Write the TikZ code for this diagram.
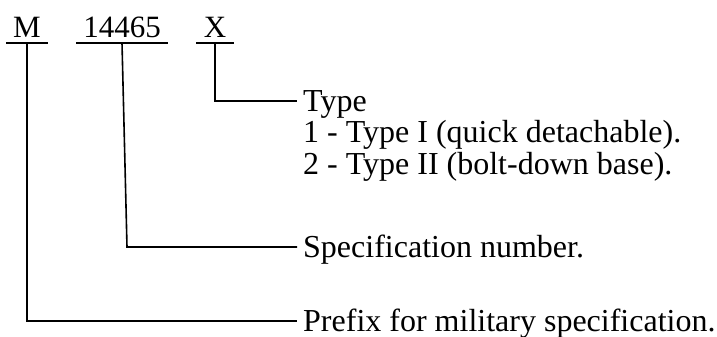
\documentclass[tikz,border=0pt]{standalone}
\usepackage{fontspec}
\setmainfont{Liberation Serif}
\begin{document}
\begin{tikzpicture}[x=1pt,y=1pt,
  lbl/.style={inner xsep=6pt, inner ysep=0pt, text height=20pt, text depth=0pt, font=\fontsize{32}{38}\selectfont},
  code/.style={inner xsep=0pt, inner ysep=5pt, text height=20pt, text depth=0pt, font=\fontsize{31}{37}\selectfont},
  wire/.style={line width=1.6pt, line cap=rect}]
\useasboundingbox (0,0) rectangle (717,-337);
% code letters
\node[code, minimum width=40pt, anchor=south] (m) at (27,-43) {M};
\node[code, minimum width=90pt, anchor=south] (n) at (122,-43) {14465};
\node[code, minimum width=36pt, anchor=south] (x) at (215,-43) {X};
\draw[wire] (m.south west) -- (m.south east);
\draw[wire] (n.south west) -- (n.south east);
\draw[wire] (x.south west) -- (x.south east);
% descriptions
\node[lbl, anchor=west] (t0) at (297,-101) {Type};
\node[lbl, anchor=base west] (t1) at (297,-142) {1 - Type I (quick detachable).};
\node[lbl, anchor=base west] (t2) at (297,-174) {2 - Type II (bolt-down base).};
\node[lbl, anchor=west] (sp) at (297,-247) {Specification number.};
\node[lbl, anchor=west] (pf) at (297,-321) {Prefix for military specification.};
% connectors
\draw[wire, line cap=butt] (x.south) |- (t0.west);
\draw[wire, line cap=butt] (n.south) -- ([xshift=5pt]n.south |- sp.west) -- (sp.west);
\draw[wire, line cap=butt] (m.south) |- (pf.west);
\end{tikzpicture}
\end{document}
